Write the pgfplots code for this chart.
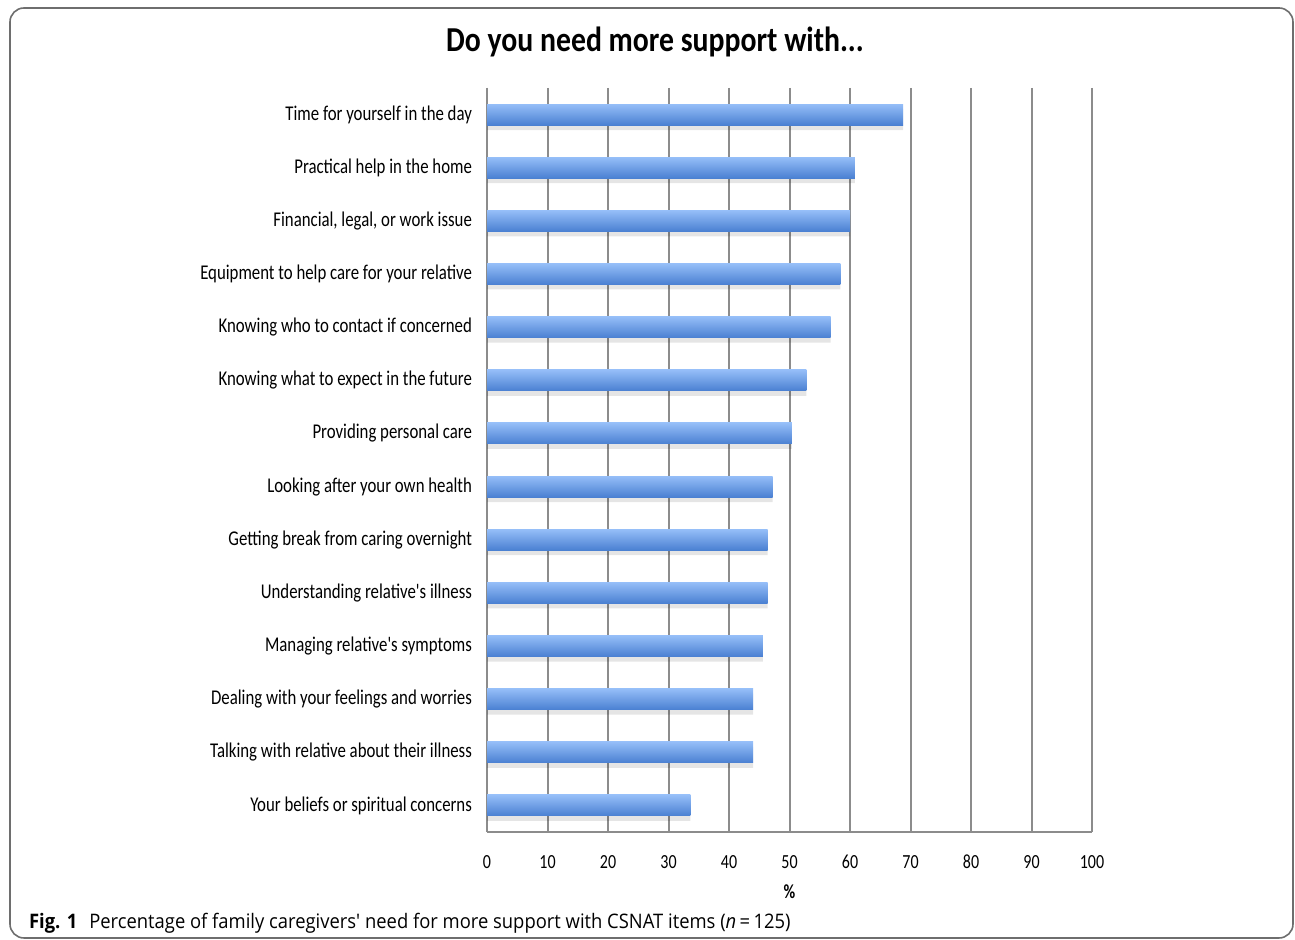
\documentclass[border=0pt]{standalone}
\usepackage{pgfplots}
\pgfplotsset{compat=1.18}
\usepackage{fontspec}
\setmainfont{Carlito}
\newfontfamily\lab[FakeStretch=0.8]{Carlito}
\newfontfamily\titfont[FakeStretch=0.85]{Carlito}
\newfontfamily\capfont[FakeStretch=0.92]{Open Sans}
\definecolor{gridc}{HTML}{8C8C8C}
\definecolor{framec}{HTML}{6E6E6E}
\definecolor{bartop}{HTML}{95BEF8}
\definecolor{barbot}{HTML}{4A80D2}
\begin{document}
\begin{tikzpicture}[x=0.5pt,y=0.5pt]
\useasboundingbox (0,0) rectangle (1295,940);
\draw[framec, line width=0.8pt, rounded corners=7pt] (10,2) rectangle (1293,932);
\node[font=\titfont\fontsize{17.5}{20}\selectfont\bfseries] at (655,898) {Do you need more support with...};
\node[anchor=west, font=\capfont\fontsize{10}{12}\selectfont] at (22,17) {\textbf{Fig. 1}\hspace{0.6em}Percentage of family caregivers' need for more support with CSNAT items (\textit{n}\,=\,125)};
\begin{axis}[
  at={(243.5pt,54pt)}, anchor=south west,
  scale only axis, width=302.5pt, height=372pt,
  xbar, bar width=10.5pt,
  xmin=0, xmax=100, ymin=-0.5, ymax=13.5,
  y dir=reverse,
  axis x line*=bottom, axis y line*=left,
  axis line style={gridc, line width=1pt, -},
  xtick={0,10,...,100}, ytick={0,...,13},
  major tick length=0pt,
  xmajorgrids, grid style={gridc, line width=1pt},
  yticklabels={Time for yourself in the day, Practical help in the home, {Financial, legal, or work issue}, Equipment to help care for your relative, Knowing who to contact if concerned, Knowing what to expect in the future, Providing personal care, Looking after your own health, Getting break from caring overnight, Understanding relative's illness, Managing relative's symptoms, Dealing with your feelings and worries, Talking with relative about their illness, Your beliefs or spiritual concerns},
  yticklabel style={font=\lab\fontsize{10.5}{12}\selectfont, xshift=-4pt},
  xticklabel style={font=\lab\fontsize{10}{12}\selectfont, yshift=-8pt},
  /pgf/number format/assume math mode=true,
  xlabel={\textbf{\%}},
  xlabel style={font=\lab\fontsize{10}{12}\selectfont, at={(axis description cs:0.5,0)}, anchor=center, yshift=-30pt},
  clip=false,
  shadowbar/.style={draw=none, fill=black, opacity=0.10, bar shift=-2.5pt, forget plot},
  mybar/.style={draw=none, top color=bartop, bottom color=barbot, bar shift=0pt, forget plot},
]
\addplot[shadowbar] coordinates {
(68.8,0) (60.8,1) (60.0,2) (58.4,3) (56.8,4) (52.8,5) (50.4,6) (47.2,7) (46.4,8) (46.4,9) (45.6,10) (44.0,11) (44.0,12) (33.6,13)};
\addplot[mybar] coordinates {(68.8,0)};
\addplot[mybar] coordinates {(60.8,1)};
\addplot[mybar] coordinates {(60.0,2)};
\addplot[mybar] coordinates {(58.4,3)};
\addplot[mybar] coordinates {(56.8,4)};
\addplot[mybar] coordinates {(52.8,5)};
\addplot[mybar] coordinates {(50.4,6)};
\addplot[mybar] coordinates {(47.2,7)};
\addplot[mybar] coordinates {(46.4,8)};
\addplot[mybar] coordinates {(46.4,9)};
\addplot[mybar] coordinates {(45.6,10)};
\addplot[mybar] coordinates {(44.0,11)};
\addplot[mybar] coordinates {(44.0,12)};
\addplot[mybar] coordinates {(33.6,13)};
\end{axis}
\end{tikzpicture}
\end{document}
